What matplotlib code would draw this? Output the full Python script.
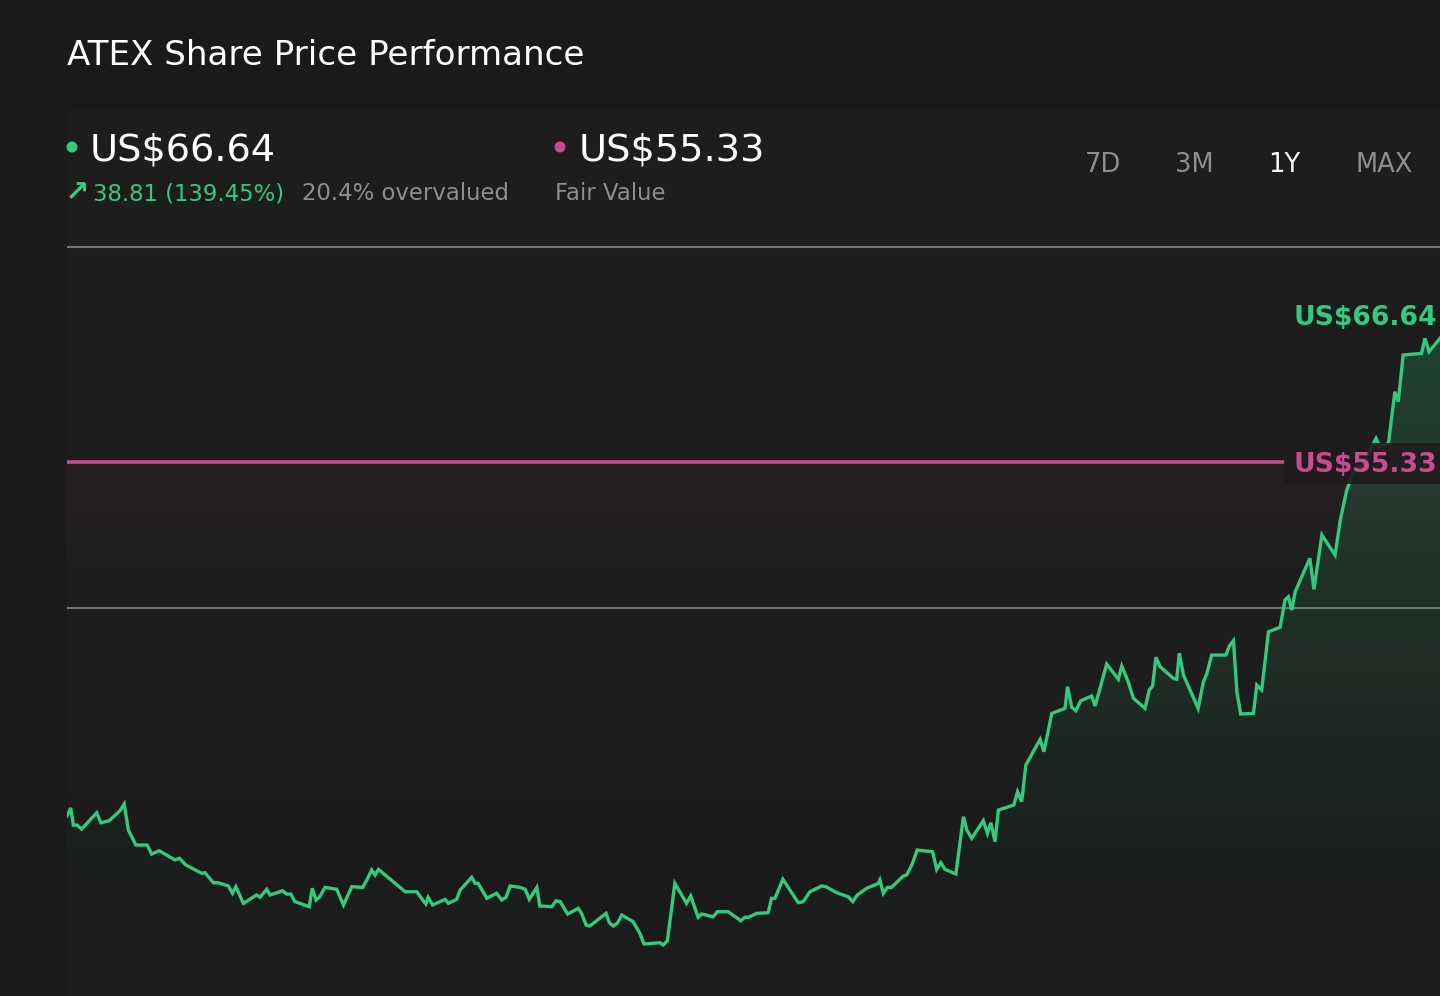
import matplotlib
matplotlib.use("Agg")
import matplotlib.pyplot as plt
import numpy as np
from matplotlib.patches import FancyBboxPatch, Ellipse
from matplotlib.transforms import IdentityTransform
from matplotlib.colors import to_rgb

# ---------------- data ----------------
title = "ATEX Share Price Performance"
current_price = 66.64
fair_value = 55.33
change_abs = 38.81
change_pct = 139.45
valuation_text = "20.4% overvalued"
fair_value_caption = "Fair Value"
periods = ["7D", "3M", "1Y", "MAX"]
active_period = "1Y"
grid_values = [44, 72]

days = [0, 1.0, 1.7, 2.7, 3.9, 5.7, 7.9, 9.0, 11.2, 14.1, 15.2, 16.3, 18.3, 21.3, 22.5,
        24.5, 28.7, 29.9, 31.6, 35.8, 36.7, 38.9, 40.2, 42.9, 44.0, 44.9, 46.9, 50.4, 51.3,
        53.1, 54.0, 57.3, 58.4, 59.5, 60.6, 64.4, 65.2, 66.2, 67.1, 68.6, 71.7, 73.5, 75.7,
        78.6, 79.7, 81.0, 81.9, 82.8, 86.7, 89.9, 93.0, 94.7, 95.4, 96.0, 97.2, 100.5, 101.4,
        103.6, 104.5, 107.6, 108.5, 109.3, 111.6, 114.2, 115.6, 116.7, 117.8, 120.4, 121.8,
        122.9, 124.9, 125.7, 128.9, 130.0, 131.1, 133.1, 135.9, 136.8, 138.0, 139.0, 143.3,
        144.2, 145.2, 146.3, 147.5, 150.5, 152.3, 153.4, 157.6, 158.5, 159.6, 161.6, 164.7,
        165.8, 167.8, 168.7, 171.8, 172.9, 175.8, 179.1, 180.2, 181.1, 183.4, 186.4, 187.3,
        188.2, 190.3, 194.4, 195.7, 197.5, 200.6, 201.8, 204.6, 207.7, 208.9, 210.1, 212.6,
        215.7, 216.1, 217.0, 218.1, 219.2, 222.3, 223.2, 224.6, 226.0, 230.1, 231.2, 232.3,
        233.4, 236.3, 238.3, 239.2, 240.5, 243.6, 244.7, 245.6, 246.7, 247.6, 251.7, 252.7,
        253.8, 254.9, 258.7, 259.7, 261.8, 265.3, 266.0, 267.1, 268.2, 269.5, 272.4, 273.3,
        276.4, 279.5, 280.4, 282.1, 283.5, 286.6, 287.7, 288.6, 289.5, 290.6, 294.1, 295.0,
        295.7, 296.8, 300.7, 302.1, 303.0, 304.3, 308.1, 309.0, 310.1, 311.0, 312.0, 315.4,
        316.3, 317.6, 319.4, 322.5, 323.8, 324.7, 325.6, 326.5, 330.4, 331.5, 333.6, 337.1,
        338.5, 340.2, 342.4, 344.5, 346.4, 348.0, 349.0, 351.3, 353.0, 353.9, 355.2, 360.1,
        361.0, 362.1, 365.0]

prices = [27.83, 28.45, 27.12, 27.12, 26.81, 27.38, 28.08, 27.30, 27.46, 28.24, 28.76, 26.74,
          25.57, 25.57, 24.87, 25.13, 24.41, 24.54, 24.02, 23.37, 23.42, 22.64, 22.64, 22.39,
          21.82, 22.33, 21.04, 21.69, 21.51, 22.13, 21.69, 22.02, 21.76, 21.76, 21.17, 20.78,
          22.21, 21.30, 21.51, 22.28, 22.13, 20.91, 22.33, 22.28, 22.85, 23.63, 23.24, 23.68,
          22.72, 21.94, 21.94, 21.24, 20.99, 21.51, 20.91, 21.35, 21.04, 21.35, 22.07, 23.06,
          22.59, 22.59, 21.43, 21.82, 21.30, 21.51, 22.39, 22.28, 22.13, 21.35, 22.28, 20.83,
          20.78, 21.24, 21.17, 20.21, 20.65, 20.26, 19.35, 19.28, 20.26, 19.53, 19.28, 19.49,
          20.13, 19.61, 18.71, 17.88, 17.98, 17.80, 18.13, 22.59, 21.04, 21.61, 19.95, 20.21,
          20.00, 20.39, 20.39, 19.69, 19.95, 19.95, 20.26, 20.31, 21.43, 21.43, 22.91, 21.09,
          21.17, 21.94, 22.39, 22.33, 21.87, 21.55, 21.17, 21.69, 22.21, 22.59, 22.85, 21.82,
          22.28, 22.28, 23.16, 23.24, 24.02, 25.18, 25.05, 23.68, 24.20, 23.68, 23.32, 27.77,
          26.74, 26.09, 27.46, 26.48, 27.30, 25.83, 28.29, 28.68, 29.71, 28.94, 31.79, 33.78,
          32.82, 35.80, 36.19, 37.87, 36.27, 36.01, 36.78, 37.15, 36.37, 39.63, 38.45, 39.48,
          38.26, 36.97, 36.19, 37.61, 37.93, 40.16, 39.43, 38.52, 38.45, 40.47, 38.78, 36.19,
          38.26, 38.86, 40.33, 40.33, 41.03, 41.45, 37.48, 35.75, 35.80, 38.00, 37.61, 42.14,
          42.49, 44.61, 44.86, 43.83, 45.25, 47.85, 45.44, 49.66, 48.10, 50.82, 53.15, 54.86,
          55.02, 56.26, 57.17, 56.52, 56.78, 60.79, 60.02, 63.64, 63.77, 64.94, 63.90, 64.94]

# ---------------- style ----------------
W, H = 1440, 996
BG = "#1a1a1a"
PLOT_BG = "#1c1d1c"
GREEN = "#34c97f"
PINK = "#c54d8d"
GRID = "#78766a"
GREY = "#8e8e8e"
WHITE = "#ffffff"

fig = plt.figure(figsize=(W / 100, H / 100), dpi=100, facecolor=BG)


def fx(px):
    return px / W


def fy(py):
    return 1 - py / H


# very subtle lighter panel behind header/plot
bg_ax = fig.add_axes([fx(67), 0, 1 - fx(67), fy(110)], zorder=-5)
bg_ax.set_axis_off()
grad = np.linspace(0, 1, 256)[:, None]
c_top = np.array(to_rgb(PLOT_BG))
c_bot = np.array(to_rgb(BG))
w = np.clip((grad - 0.7) / 0.22, 0, 1)
img = c_top * (1 - w)[..., None] + c_bot * w[..., None]
img = np.repeat(img, 2, axis=1)
bg_ax.imshow(img, aspect="auto", extent=[0, 1, 0, 1], origin="upper")
bg_ax.set_xlim(0, 1)
bg_ax.set_ylim(0, 1)

ymin, ymax = 13.84, 72.19
ax = fig.add_axes([fx(67), 0, 1 - fx(67), (996 - 245) / H])
ax.patch.set_alpha(0)
ax.set_xlim(0, 365)
ax.set_ylim(ymin, ymax)
ax.set_xticks([])
ax.set_yticks([])
for s in ax.spines.values():
    s.set_visible(False)

# gridlines
for g in grid_values:
    ax.axhline(g, color=GRID, lw=1.5, zorder=1)

# overvalued zone below fair value (pink fade)
n = 200
zone = np.zeros((n, 2, 4))
zone[..., :3] = to_rgb(PINK)
zone[..., 3] = np.linspace(0.065, 0.0, n)[:, None]
ax.imshow(zone, aspect="auto", extent=[0, 365, grid_values[0], fair_value],
          origin="upper", zorder=0.5)

# green gradient fill under the price line
rows = 400
yy = np.linspace(ymax, ymin, rows)
alpha = np.clip(0.21 - (65.0 - yy) * 0.0045, 0.02, 0.21)
gimg = np.zeros((rows, 2, 4))
gimg[..., :3] = to_rgb(GREEN)
gimg[..., 3] = alpha[:, None]
im = ax.imshow(gimg, aspect="auto", extent=[0, 365, ymin, ymax], origin="upper", zorder=2)
poly = ax.fill_between(days, prices, ymin, facecolor="none", edgecolor="none")
im.set_clip_path(poly.get_paths()[0], transform=ax.transData)
ax.set_xlim(0, 365)
ax.set_ylim(ymin, ymax)

# fair value line
ax.axhline(fair_value, xmin=0, xmax=(1284 - 67) / 1373, color=PINK, lw=2.6, zorder=3)

# price line
ax.plot(days, prices, color=GREEN, lw=2.4, zorder=4, solid_joinstyle="miter")

# ---------------- right-side labels ----------------
ident = IdentityTransform()


def pbox(x0, y0, x1, y1, color, alpha):
    b = FancyBboxPatch((x0, H - y1), x1 - x0, y1 - y0,
                       boxstyle="round,pad=0,rounding_size=5",
                       transform=ident, facecolor=color, edgecolor="none",
                       alpha=alpha, zorder=6)
    fig.add_artist(b)


pbox(1285, 298, 1460, 333, "#1c1c1c", 0.95)
pbox(1284, 443, 1460, 484, "#201b1e", 0.9)
fig.text(fx(1294), fy(325), f"US${current_price:.2f}", color=GREEN, fontsize=19.2,
         fontweight="bold", va="baseline", ha="left", zorder=7)
fig.text(fx(1294), fy(472), f"US${fair_value:.2f}", color=PINK, fontsize=19.2,
         fontweight="bold", va="baseline", ha="left", zorder=7)

# ---------------- header ----------------
fig.text(fx(67), fy(65), title, color=WHITE, fontsize=24.6, va="baseline", ha="left")

fig.add_artist(Ellipse((fx(72), fy(147)), 11 / W, 11 / H, transform=fig.transFigure,
                       facecolor=GREEN, edgecolor="none"))
fig.text(fx(90), fy(160), f"US${current_price:.2f}", color=WHITE, fontsize=27.6,
         va="baseline", ha="left")
fig.text(fx(65), fy(201), "\u2197", color=GREEN, fontsize=21, fontweight="bold",
         va="baseline", ha="left")
fig.text(fx(93), fy(200), f"{change_abs:.2f} ({change_pct:.2f}%)", color=GREEN,
         fontsize=16.4, va="baseline", ha="left")
fig.text(fx(302), fy(200), valuation_text, color=GREY, fontsize=16.4,
         va="baseline", ha="left")

fig.add_artist(Ellipse((fx(560), fy(147)), 11 / W, 11 / H, transform=fig.transFigure,
                       facecolor=PINK, edgecolor="none"))
fig.text(fx(579), fy(160), f"US${fair_value:.2f}", color=WHITE, fontsize=27.6,
         va="baseline", ha="left")
fig.text(fx(555), fy(200), fair_value_caption, color=GREY, fontsize=16.4,
         va="baseline", ha="left")

period_x = [1085, 1175, 1268, 1355]
for lab, px in zip(periods, period_x):
    fig.text(fx(px), fy(171.5), lab, color=WHITE if lab == active_period else GREY,
             fontsize=18.5, va="baseline", ha="left")

fig.savefig("out.png", dpi=100, facecolor=BG)
